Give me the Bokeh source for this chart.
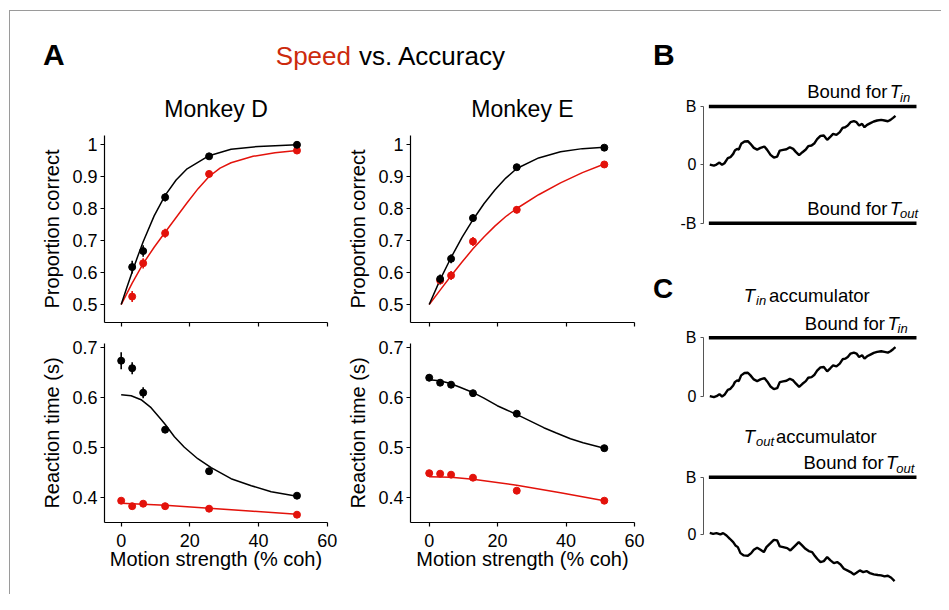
from bokeh.plotting import figure
from bokeh.models import Label, FixedTicker, CustomJSTickFormatter, Range1d
from bokeh.layouts import row, column
from bokeh.embed import file_html
from bokeh.resources import INLINE

FONT = "Liberation Sans"
RED = "#e3120b"
SPEED_RED = "#cc2a0c"

# ---------------- data ----------------
coh_pc = [3.2, 6.4, 12.8, 25.6, 51.2]          # proportion-correct points
coh_rt = [0, 3.2, 6.4, 12.8, 25.6, 51.2]       # reaction-time points
coh_ticks = [0, 20, 40, 60]
pc_ticks = [0.5, 0.6, 0.7, 0.8, 0.9, 1.0]
rt_ticks = [0.4, 0.5, 0.6, 0.7]

# Monkey D, proportion correct
d_pc_acc = [0.617, 0.667, 0.835, 0.963, 0.999]
d_pc_acc_err = [0.020, 0.018, 0.013, 0.006, 0.002]
d_pc_spd = [0.525, 0.629, 0.723, 0.908, 0.981]
d_pc_spd_err = [0.017, 0.016, 0.014, 0.010, 0.004]
d_pc_fit_coh = [0, 1.6, 3.2, 4.8, 6.4, 9.6, 12.8, 16, 19.2, 25.6, 32, 40, 51.2]
d_pc_fit_acc = [0.5, 0.552, 0.602, 0.650, 0.696, 0.777, 0.841, 0.889, 0.924, 0.965, 0.985, 0.994, 0.999]
d_pc_fit_coh2 = [0, 3.2, 6.4, 9.6, 12.8, 16, 19.2, 22.4, 25.6, 28.8, 32, 38.4, 44.8, 51.2]
d_pc_fit_spd = [0.5, 0.567, 0.628, 0.679, 0.726, 0.772, 0.818, 0.862, 0.900, 0.926, 0.943, 0.963, 0.974, 0.981]

# Monkey E, proportion correct
e_pc_acc = [0.580, 0.643, 0.770, 0.929, 0.990]
e_pc_acc_err = [0.014, 0.014, 0.012, 0.006, 0.003]
e_pc_spd = [0.575, 0.591, 0.697, 0.796, 0.9375]
e_pc_spd_err = [0.012, 0.014, 0.014, 0.011, 0.006]
e_pc_fit_coh = [0, 3.2, 6.4, 9.6, 12.8, 16, 19.2, 22.4, 25.6, 32, 38.4, 44.8, 51.2]
e_pc_fit_acc = [0.5, 0.578, 0.647, 0.710, 0.765, 0.815, 0.858, 0.895, 0.925, 0.958, 0.977, 0.987, 0.991]
e_pc_fit_spd = [0.5, 0.545, 0.590, 0.633, 0.674, 0.711, 0.745, 0.775, 0.800, 0.843, 0.880, 0.912, 0.939]

# Monkey D, reaction time
d_rt_acc = [0.673, 0.658, 0.609, 0.535, 0.452, 0.403]
d_rt_acc_err = [0.017, 0.012, 0.011, 0.006, 0.003, 0.002]
d_rt_spd = [0.393, 0.382, 0.387, 0.382, 0.377, 0.365]
d_rt_spd_err = [0.003, 0.003, 0.003, 0.002, 0.002, 0.002]
d_rt_fit_coh = [0, 2.9, 5.8, 8.7, 11.7, 12.9, 15.5, 18.4, 22.3, 26.2, 32, 37.9, 43.7, 51.2]
d_rt_fit_acc = [0.605, 0.603, 0.595, 0.579, 0.555, 0.545, 0.521, 0.500, 0.477, 0.459, 0.437, 0.423, 0.411, 0.402]
d_rt_fit_coh2 = [0, 12.8, 25.6, 38.4, 51.2]
d_rt_fit_spd = [0.388, 0.384, 0.378, 0.372, 0.366]

# Monkey E, reaction time
e_rt_acc = [0.639, 0.629, 0.625, 0.608, 0.567, 0.498]
e_rt_acc_err = [0.007, 0.006, 0.005, 0.003, 0.003, 0.002]
e_rt_spd = [0.448, 0.447, 0.445, 0.439, 0.413, 0.393]
e_rt_spd_err = [0.003, 0.002, 0.002, 0.002, 0.002, 0.002]
e_rt_fit_coh = [0, 3, 6, 9, 12.6, 16, 19.9, 22.5, 25.7, 29, 33.5, 37, 41.3, 45, 51.2]
e_rt_fit_acc = [0.635, 0.633, 0.628, 0.620, 0.610, 0.598, 0.583, 0.575, 0.565, 0.554, 0.539, 0.529, 0.517, 0.509, 0.498]
e_rt_fit_coh2 = [0, 6.4, 12.8, 25.6, 38.4, 51.2]
e_rt_fit_spd = [0.441, 0.440, 0.436, 0.424, 0.409, 0.393]

# Accumulated evidence (units of bound B) vs. time (fraction of trial)
tin_t = [0, 0.022, 0.036, 0.052, 0.066, 0.079, 0.097, 0.111, 0.126, 0.135,
         0.147, 0.156, 0.169, 0.187, 0.205, 0.219, 0.237, 0.255, 0.273, 0.294,
         0.309, 0.327, 0.345, 0.363, 0.377, 0.395, 0.413, 0.431, 0.449, 0.463,
         0.481, 0.499, 0.517, 0.530, 0.548, 0.564, 0.578, 0.596, 0.614, 0.632,
         0.650, 0.664, 0.682, 0.700, 0.715, 0.729, 0.743, 0.758, 0.776, 0.790,
         0.804, 0.820, 0.833, 0.847, 0.865, 0.883, 0.901, 0.923, 0.941, 0.959,
         0.973, 0.987, 1.0]
tin_v = [0.005, -0.012, 0.005, 0.039, 0.000, 0.028, 0.114, 0.131, 0.188, 0.245,
         0.274, 0.262, 0.360, 0.400, 0.405, 0.360, 0.291, 0.262, 0.291, 0.314,
         0.257, 0.171, 0.125, 0.142, 0.245, 0.257, 0.268, 0.302, 0.274, 0.222,
         0.165, 0.217, 0.262, 0.320, 0.331, 0.371, 0.440, 0.497, 0.503, 0.428,
         0.485, 0.531, 0.514, 0.560, 0.634, 0.645, 0.674, 0.731, 0.748, 0.731,
         0.674, 0.702, 0.645, 0.685, 0.714, 0.743, 0.760, 0.771, 0.760, 0.748,
         0.771, 0.806, 0.840]
tout_t = [0, 0.018, 0.036, 0.057, 0.072, 0.090, 0.108, 0.126, 0.138, 0.151,
          0.165, 0.183, 0.205, 0.223, 0.237, 0.255, 0.273, 0.291, 0.305, 0.327,
          0.345, 0.363, 0.377, 0.395, 0.417, 0.434, 0.452, 0.479, 0.497, 0.515,
          0.533, 0.551, 0.564, 0.578, 0.596, 0.614, 0.632, 0.650, 0.668, 0.686,
          0.704, 0.722, 0.740, 0.758, 0.776, 0.790, 0.808, 0.826, 0.844, 0.862,
          0.883, 0.905, 0.923, 0.941, 0.959, 0.977, 0.995]
tout_v = [0.035, 0.017, 0.029, 0.006, 0.029, -0.012, -0.069, -0.127, -0.185, -0.214,
          -0.318, -0.358, -0.364, -0.318, -0.260, -0.225, -0.260, -0.301, -0.214, -0.145,
          -0.087, -0.098, -0.202, -0.214, -0.231, -0.272, -0.214, -0.127, -0.185, -0.243,
          -0.283, -0.301, -0.358, -0.416, -0.474, -0.457, -0.387, -0.445, -0.491, -0.474,
          -0.514, -0.590, -0.618, -0.647, -0.688, -0.659, -0.618, -0.647, -0.630, -0.665,
          -0.688, -0.699, -0.705, -0.723, -0.711, -0.746, -0.803]
bound_t = [-0.005, 1.113]
bound_hi = [1, 1]
bound_lo = [-1, -1]


# ---------------- helpers ----------------
def lab(p, g, px, py, text, size, style="normal", color="black", align="left"):
    fl, ft, w, h, (x0, x1), (y0, y1) = g
    fs = float(size.replace("px", ""))
    py = py - 0.37 * fs          # empirical correction for baseline placement
    x = x0 + (px - fl) / w * (x1 - x0)
    y = y1 - (py - ft) / h * (y1 - y0)
    p.add_layout(Label(x=x, y=y, text=text, text_font=FONT, text_font_size=size,
                       text_font_style=style, text_color=color, text_align=align,
                       text_baseline="alphabetic"))


def style_axis(ax, color="black", lw=1.2, label_size="18px", out=4, standoff=3):
    ax.axis_line_color = color
    ax.axis_line_width = lw
    ax.major_tick_line_color = color
    ax.major_tick_line_width = lw
    ax.major_tick_out = out
    ax.major_tick_in = 0
    ax.minor_tick_line_color = None
    ax.major_label_text_font = FONT
    ax.major_label_text_font_size = label_size
    ax.major_label_text_color = "black"
    ax.major_label_standoff = standoff
    ax.axis_label_text_font = FONT
    ax.axis_label_text_font_size = "20px"
    ax.axis_label_text_font_style = "normal"
    ax.axis_label_text_color = "black"
    ax.axis_label_standoff = 6


def blank(fw, fh):
    p = figure(frame_width=fw, frame_height=fh, x_range=Range1d(0, fw), y_range=Range1d(0, fh),
               x_axis_location=None, y_axis_location=None, toolbar_location=None,
               output_backend="svg", min_border=0, min_border_left=0, min_border_right=0,
               min_border_top=0, min_border_bottom=0)
    p.grid.visible = False
    p.outline_line_color = None
    return p


def a_panel(left, fw, right, top, fh, bottom, xr, yr, yticks, ylabel, xlabel=None, title=None, title_offset=0):
    p = figure(frame_width=fw, frame_height=fh, min_border_left=left, min_border_right=right,
               min_border_top=top, min_border_bottom=bottom, x_range=Range1d(*xr),
               y_range=Range1d(*yr), toolbar_location=None, output_backend="svg", title=title)
    p.grid.visible = False
    p.outline_line_color = None
    style_axis(p.xaxis[0])
    style_axis(p.yaxis[0])
    p.xaxis.ticker = FixedTicker(ticks=coh_ticks)
    p.yaxis.ticker = FixedTicker(ticks=yticks)
    p.yaxis.formatter = CustomJSTickFormatter(code="return String(Math.round(tick*10)/10);")
    p.yaxis.axis_label = ylabel
    if xlabel:
        p.xaxis.axis_label = xlabel
        p.xaxis.major_label_standoff = 7
        p.xaxis.axis_label_standoff = -2
    else:
        p.xaxis.formatter = CustomJSTickFormatter(code="return '';")
        p.xaxis.major_label_text_font_size = "1px"
        p.xaxis.major_label_standoff = 0
    if title:
        p.title.text_font = FONT
        p.title.text_font_size = "23px"
        p.title.text_font_style = "normal"
        p.title.text_color = "black"
        p.title.align = "center"
        p.title.standoff = 27
        p.title.offset = title_offset
    return p


def draw(p, xs, acc, acc_err, spd, spd_err, fx_a, fa, fx_s, fs):
    p.line(fx_s, fs, line_color=RED, line_width=1.5)
    p.line(fx_a, fa, line_color="black", line_width=1.5)
    p.segment(x0=xs, x1=xs, y0=[v - e for v, e in zip(spd, spd_err)],
              y1=[v + e for v, e in zip(spd, spd_err)], line_color=RED, line_width=1.6)
    p.scatter(xs, spd, marker="circle", size=7, fill_color=RED, line_color=RED)
    p.segment(x0=xs, x1=xs, y0=[v - e for v, e in zip(acc, acc_err)],
              y1=[v + e for v, e in zip(acc, acc_err)], line_color="black", line_width=1.6)
    p.scatter(xs, acc, marker="circle", size=7, fill_color="black", line_color="black")


# ---------------- header ----------------
G_H = (10, 11, 931, 67, (0, 931), (0, 67))
header = blank(931, 67)
lab(header, G_H, 42.5, 65, "A", "30px", style="bold")
lab(header, G_H, 350.5, 65, "Speed", "26px", color=SPEED_RED, align="right")
lab(header, G_H, 358.5, 65, "vs. Accuracy", "26px")
lab(header, G_H, 652.5, 65, "B", "30px", style="bold")

# ---------------- panel A ----------------
XR_D = (-4.86, 60.09)
XR_E = (-5.47, 60.03)
YR_PC = (0.444, 1.028)
YR_RT = (0.3494, 0.7074)

p_d_pc = a_panel(94, 223, 13, 57, 187, 10, XR_D, YR_PC, pc_ticks, "Proportion correct", title="Monkey D")
draw(p_d_pc, coh_pc, d_pc_acc, d_pc_acc_err, d_pc_spd, d_pc_spd_err,
     d_pc_fit_coh, d_pc_fit_acc, d_pc_fit_coh2, d_pc_fit_spd)

p_e_pc = a_panel(70, 224, 16, 57, 187, 10, XR_E, YR_PC, pc_ticks, "Proportion correct", title="Monkey E", title_offset=-6)
draw(p_e_pc, coh_pc, e_pc_acc, e_pc_acc_err, e_pc_spd, e_pc_spd_err,
     e_pc_fit_coh, e_pc_fit_acc, e_pc_fit_coh, e_pc_fit_spd)

p_d_rt = a_panel(94, 223, 13, 11, 179, 72, XR_D, YR_RT, rt_ticks, "Reaction time (s)", xlabel="Motion strength (% coh)")
draw(p_d_rt, coh_rt, d_rt_acc, d_rt_acc_err, d_rt_spd, d_rt_spd_err,
     d_rt_fit_coh, d_rt_fit_acc, d_rt_fit_coh2, d_rt_fit_spd)

p_e_rt = a_panel(70, 224, 16, 11, 179, 72, XR_E, YR_RT, rt_ticks, "Reaction time (s)", xlabel="Motion strength (% coh)")
draw(p_e_rt, coh_rt, e_rt_acc, e_rt_acc_err, e_rt_spd, e_rt_spd_err,
     e_rt_fit_coh, e_rt_fit_acc, e_rt_fit_coh2, e_rt_fit_spd)

# ---------------- panels B and C ----------------
XR_T = (-0.0339, 1.2154)


def bc_panel(fh, yr, ticks):
    p = figure(frame_width=232, frame_height=fh, min_border_left=26, min_border_right=6,
               min_border_top=0, min_border_bottom=0, x_range=Range1d(*XR_T), y_range=Range1d(*yr),
               x_axis_location=None, toolbar_location=None, output_backend="svg")
    p.grid.visible = False
    p.outline_line_color = None
    ax = p.yaxis[0]
    style_axis(ax, color="#555555", lw=1, label_size="16px", out=3, standoff=4)
    ax.ticker = FixedTicker(ticks=ticks)
    ax.bounds = (min(ticks), max(ticks))
    ax.formatter = CustomJSTickFormatter(code="return tick > 0.5 ? 'B' : (tick < -0.5 ? '-B' : '0');")
    return p


# narrow strip holding the panel letter C
G_S = (650, 78, 27, 516, (0, 27), (0, 516))
strip = blank(27, 516)
lab(strip, G_S, 652.5, 298.3, "C", "28px", style="bold")

G_B = (703, 78, 232, 162, XR_T, (-1.2965, 1.4799))
p_b = bc_panel(162, G_B[5], [-1, 0, 1])
p_b.line(bound_t, bound_hi, line_color="black", line_width=3.5)
p_b.line(bound_t, bound_lo, line_color="black", line_width=3.5)
p_b.line(tin_t, tin_v, line_color="black", line_width=2.4)
for base, sub in ((98.3, "in"), (215.0, "out")):
    lab(p_b, G_B, 806.7, base, "Bound for", "18.5px")
    lab(p_b, G_B, 889.3, base, "T", "18.5px", style="italic")
    lab(p_b, G_B, 899.5, base + 3.2, sub, "13px", style="italic")

G_C1 = (703, 240, 232, 165, XR_T, (-0.1533, 2.6576))
p_c1 = bc_panel(165, G_C1[5], [0, 1])
p_c1.line(bound_t, bound_hi, line_color="black", line_width=3.5)
p_c1.line(tin_t, tin_v, line_color="black", line_width=2.4)
lab(p_c1, G_C1, 743.3, 301.7, "T", "18.5px", style="italic")
lab(p_c1, G_C1, 755.5, 304.7, "in", "13px", style="italic")
lab(p_c1, G_C1, 768.5, 301.7, "accumulator", "18.5px")
lab(p_c1, G_C1, 804.3, 330.0, "Bound for", "18.5px")
lab(p_c1, G_C1, 886.9, 330.0, "T", "18.5px", style="italic")
lab(p_c1, G_C1, 897.1, 333.2, "in", "13px", style="italic")

G_C2 = (703, 405, 232, 189, XR_T, (-1.0365, 2.2448))
p_c2 = bc_panel(189, G_C2[5], [0, 1])
p_c2.line(bound_t, bound_hi, line_color="black", line_width=3.5)
p_c2.line(tout_t, tout_v, line_color="black", line_width=2.4)
lab(p_c2, G_C2, 743.3, 443.3, "T", "18.5px", style="italic")
lab(p_c2, G_C2, 755.5, 446.3, "out", "13px", style="italic")
lab(p_c2, G_C2, 775.5, 443.3, "accumulator", "18.5px")
lab(p_c2, G_C2, 803.0, 469.3, "Bound for", "18.5px")
lab(p_c2, G_C2, 885.6, 469.3, "T", "18.5px", style="italic")
lab(p_c2, G_C2, 895.8, 472.5, "out", "13px", style="italic")

left_block = column(row(p_d_pc, p_e_pc), row(p_d_rt, p_e_rt))
right_block = row(strip, column(p_b, p_c1, p_c2))
root = column(header, row(left_block, right_block),
              styles={"border-top": "1px solid #9a9a9a", "border-left": "1px solid #9a9a9a",
                      "margin-top": "10px", "margin-left": "9px"})

open("out.html", "w").write(file_html(root, INLINE))
